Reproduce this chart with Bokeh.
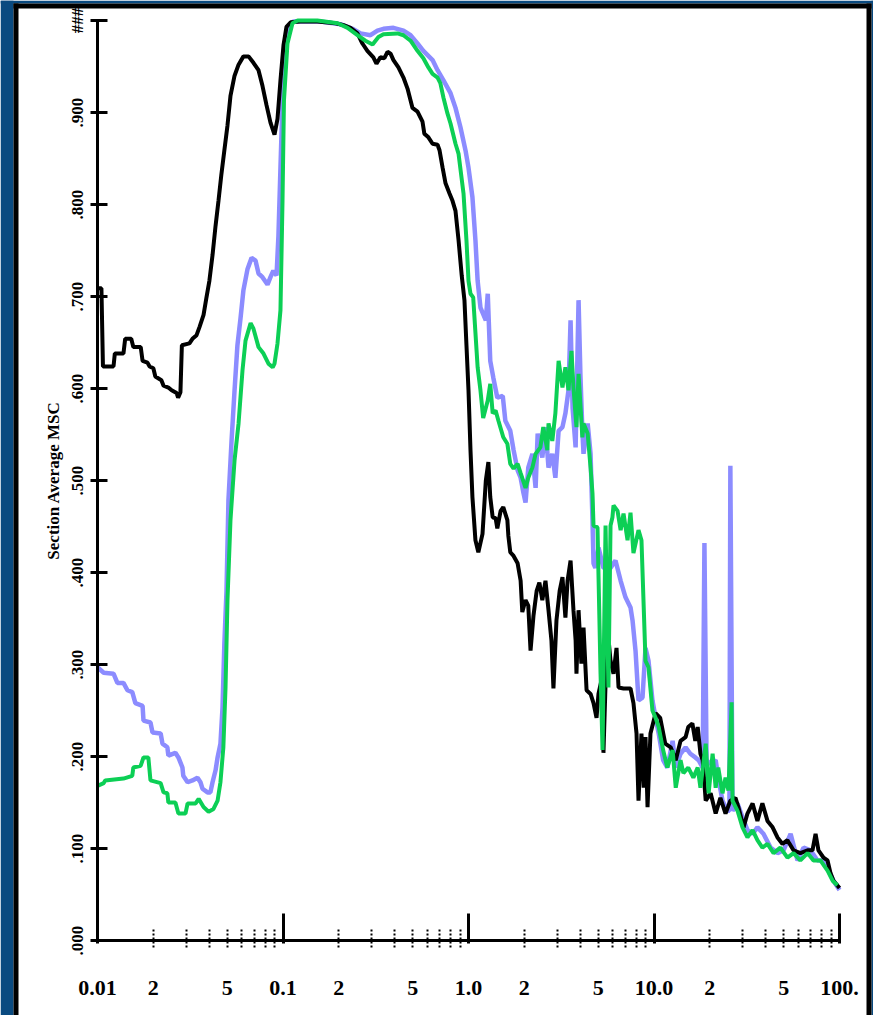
import math
from bokeh.plotting import figure
from bokeh.models import Range1d, FixedTicker, LogAxis, BoxAnnotation, Label
from bokeh.embed import file_html
from bokeh.resources import INLINE

# ---------------- data (frequency, Hz ; section average MSC) ----------------
black_f = [0.0100, 0.0105, 0.0107, 0.0122, 0.0124, 0.0138, 0.0141, 0.0152, 0.0156, 0.0171,
           0.0175, 0.0186, 0.0191, 0.0200, 0.0205, 0.0221, 0.0227, 0.0241, 0.0251, 0.0267,
           0.0272, 0.0280, 0.0285, 0.0313, 0.0325, 0.0342, 0.0355, 0.0373, 0.0386, 0.0401,
           0.0417, 0.0433, 0.0449, 0.0465, 0.0483, 0.0502, 0.0521, 0.0548, 0.0576, 0.0612,
           0.0652, 0.0693, 0.0738, 0.0775, 0.0815, 0.0856, 0.0900, 0.0934, 0.0969,
           0.1006, 0.1044, 0.110, 0.124, 0.153, 0.192, 0.212, 0.231, 0.252, 0.268,
           0.285, 0.307, 0.319, 0.335, 0.352, 0.366, 0.380, 0.394, 0.419, 0.446,
           0.469, 0.499, 0.531, 0.565, 0.578, 0.608, 0.640, 0.681, 0.698, 0.725,
           0.752, 0.790, 0.820, 0.851, 0.884, 0.919, 0.951, 0.975,
           1.00, 1.025, 1.05, 1.09, 1.13, 1.19, 1.24, 1.28, 1.31, 1.35,
           1.40, 1.43, 1.49, 1.54, 1.62, 1.64, 1.68, 1.75, 1.84, 1.91,
           1.95, 2.03, 2.10, 2.16, 2.24, 2.33, 2.41, 2.50, 2.60, 2.70,
           2.80, 2.87, 2.98, 3.10, 3.21, 3.33, 3.42, 3.55, 3.68, 3.78,
           3.82, 3.92, 4.06, 4.17, 4.33, 4.55, 4.72, 4.90, 5.02, 5.21,
           5.34, 5.48, 5.68, 5.83, 6.05, 6.28, 6.44, 6.85, 7.47, 7.75,
           8.05, 8.25, 8.56, 8.80, 9.00, 9.23, 9.57,
           10.2, 10.8, 11.5, 12.3, 13.1, 13.9, 14.8, 15.3, 16.1, 16.7,
           17.2, 17.8, 18.3, 19.0, 20.2, 21.5, 22.8, 24.3, 25.8, 27.5,
           28.5, 30.4, 31.9, 34.0, 36.1, 38.4, 40.9, 43.6, 46.3, 49.3,
           52.4, 56.5, 61.5, 67.3, 71.5, 74.3, 77.0, 82.0, 86.2, 89.5,
           92.8, 100.0]
black_v = [0.709, 0.709, 0.624, 0.624, 0.638, 0.638, 0.654, 0.654, 0.645, 0.645,
           0.630, 0.628, 0.624, 0.622, 0.613, 0.609, 0.603, 0.601, 0.598, 0.595,
           0.590, 0.596, 0.647, 0.649, 0.654, 0.658, 0.667, 0.680, 0.698, 0.717,
           0.745, 0.777, 0.804, 0.832, 0.859, 0.886, 0.918, 0.940, 0.952, 0.961,
           0.961, 0.954, 0.946, 0.929, 0.908, 0.889, 0.876, 0.893, 0.935,
           0.973, 0.993, 0.998, 0.999, 0.999, 0.997, 0.995, 0.992, 0.986, 0.975,
           0.967, 0.960, 0.953, 0.960, 0.959, 0.966, 0.964, 0.957, 0.949, 0.938,
           0.926, 0.905, 0.901, 0.890, 0.877, 0.873, 0.866, 0.865, 0.859, 0.840,
           0.823, 0.812, 0.804, 0.793, 0.761, 0.723, 0.696, 0.647,
           0.598, 0.533, 0.482, 0.435, 0.422, 0.442, 0.500, 0.520, 0.482, 0.460,
           0.459, 0.448, 0.467, 0.471, 0.457, 0.440, 0.422, 0.418, 0.410, 0.391,
           0.357, 0.370, 0.364, 0.315, 0.353, 0.380, 0.389, 0.370, 0.391, 0.359,
           0.326, 0.274, 0.348, 0.380, 0.395, 0.351, 0.391, 0.413, 0.359, 0.326,
           0.290, 0.359, 0.301, 0.340, 0.272, 0.268, 0.258, 0.242, 0.268, 0.283,
           0.204, 0.279, 0.329, 0.304, 0.290, 0.318, 0.275, 0.274, 0.274, 0.258,
           0.225, 0.152, 0.225, 0.166, 0.221, 0.145, 0.225,
           0.247, 0.242, 0.214, 0.210, 0.196, 0.217, 0.221, 0.232, 0.236, 0.217,
           0.232, 0.203, 0.196, 0.152, 0.160, 0.138, 0.155, 0.138, 0.152, 0.155,
           0.145, 0.123, 0.138, 0.149, 0.130, 0.149, 0.130, 0.123, 0.112, 0.105,
           0.109, 0.098, 0.095, 0.098, 0.098, 0.116, 0.098, 0.090, 0.087, 0.073,
           0.065, 0.057]

purple_f = [0.0100, 0.0108, 0.0122, 0.0128, 0.0138, 0.0145, 0.0154, 0.0160, 0.0175, 0.0177,
            0.0193, 0.0198, 0.0219, 0.0224, 0.0238, 0.0241, 0.0263, 0.0273, 0.0287, 0.0290,
            0.0306, 0.0325, 0.0346, 0.0359, 0.0368, 0.0392, 0.0406, 0.0417, 0.0433, 0.0444,
            0.0460, 0.0472, 0.0483, 0.0496, 0.0508, 0.0528, 0.0548, 0.0568, 0.0590, 0.0612,
            0.0644, 0.0677, 0.0711, 0.0738, 0.0775, 0.0825, 0.0856, 0.0887, 0.0923, 0.0945,
            0.0969,
            0.0994, 0.1019, 0.1057, 0.114, 0.159, 0.204, 0.237, 0.262, 0.296, 0.323,
            0.348, 0.394, 0.446, 0.487, 0.531, 0.571, 0.640, 0.681, 0.733, 0.800,
            0.851, 0.905, 0.963, 1.00,
            1.05, 1.09, 1.12, 1.16, 1.24, 1.27, 1.31, 1.36, 1.43, 1.53,
            1.58, 1.68, 1.75, 1.84, 1.91, 1.98, 2.03, 2.10, 2.21, 2.30,
            2.36, 2.50, 2.60, 2.70, 2.83, 2.94, 3.06, 3.21, 3.33, 3.46,
            3.55, 3.64, 3.78, 3.92, 4.01, 4.11, 4.17, 4.39, 4.55, 4.66,
            4.72, 4.83, 5.02, 5.34, 5.83, 6.20, 6.61, 7.02, 7.47, 7.66,
            7.95, 8.25, 8.67, 9.00, 9.34, 9.81,
            10.2, 10.6, 11.2, 11.8, 12.6, 13.1, 13.9, 14.8, 15.7, 16.7,
            17.4, 18.3, 18.7, 19.2, 20.2, 21.5, 22.2, 23.4, 24.9, 25.5,
            25.8, 26.5, 28.2, 30.0, 31.9, 34.0, 36.1, 38.9, 42.5, 46.3,
            49.9, 54.5, 59.4, 64.0, 69.8, 76.1, 82.0, 87.3, 92.8, 100.0]
purple_v = [0.297, 0.291, 0.290, 0.280, 0.280, 0.272, 0.270, 0.258, 0.255, 0.239,
            0.237, 0.226, 0.225, 0.214, 0.210, 0.201, 0.204, 0.199, 0.188, 0.179,
            0.172, 0.174, 0.177, 0.172, 0.165, 0.161, 0.161, 0.172, 0.185, 0.199,
            0.214, 0.253, 0.323, 0.380, 0.478, 0.543, 0.598, 0.647, 0.676, 0.707,
            0.730, 0.742, 0.739, 0.725, 0.721, 0.713, 0.721, 0.728, 0.723, 0.766,
            0.840,
            0.913, 0.967, 0.992, 0.999, 0.999, 0.996, 0.991, 0.986, 0.984, 0.989,
            0.991, 0.992, 0.989, 0.984, 0.975, 0.967, 0.957, 0.946, 0.935, 0.921,
            0.905, 0.884, 0.859, 0.840,
            0.808, 0.761, 0.717, 0.688, 0.674, 0.703, 0.630, 0.612, 0.590, 0.592,
            0.565, 0.554, 0.533, 0.511, 0.503, 0.486, 0.476, 0.514, 0.529, 0.492,
            0.551, 0.525, 0.558, 0.514, 0.529, 0.503, 0.554, 0.558, 0.573, 0.598,
            0.674, 0.579, 0.536, 0.696, 0.616, 0.554, 0.529, 0.562, 0.529, 0.457,
            0.410, 0.405, 0.427, 0.405, 0.405, 0.413, 0.391, 0.373, 0.362, 0.348,
            0.315, 0.261, 0.264, 0.318, 0.304, 0.261,
            0.242, 0.225, 0.196, 0.188, 0.217, 0.188, 0.203, 0.210, 0.203, 0.199,
            0.196, 0.188, 0.432, 0.196, 0.192, 0.196, 0.177, 0.152, 0.141, 0.141,
            0.516, 0.141, 0.149, 0.134, 0.120, 0.116, 0.123, 0.116, 0.101, 0.095,
            0.098, 0.116, 0.087, 0.101, 0.098, 0.087, 0.087, 0.076, 0.065, 0.055]

green_f = [0.0100, 0.0108, 0.0110, 0.0138, 0.0154, 0.0156, 0.0171, 0.0177, 0.0188, 0.0193,
           0.0219, 0.0227, 0.0238, 0.0241, 0.0263, 0.0273, 0.0298, 0.0306, 0.0338, 0.0351,
           0.0373, 0.0397, 0.0422, 0.0444, 0.0460, 0.0477, 0.0490, 0.0502, 0.0521, 0.0548,
           0.0576, 0.0605, 0.0628, 0.0669, 0.0693, 0.0738, 0.0785, 0.0835, 0.0880, 0.0900,
           0.0934, 0.0969, 0.0994,
           0.1012, 0.1057, 0.1125, 0.120, 0.153, 0.197, 0.223, 0.252, 0.278, 0.304,
           0.327, 0.348, 0.414, 0.446, 0.487, 0.531, 0.571, 0.608, 0.640, 0.681,
           0.705, 0.733, 0.770, 0.800, 0.851, 0.884, 0.940, 0.975,
           1.00, 1.025, 1.06, 1.12, 1.16, 1.20, 1.27, 1.31, 1.35, 1.40,
           1.45, 1.54, 1.62, 1.68, 1.75, 1.84, 1.91, 2.03, 2.10, 2.21,
           2.30, 2.44, 2.53, 2.66, 2.70, 2.83, 2.94, 3.06, 3.21, 3.33,
           3.46, 3.59, 3.68, 3.82, 3.92, 4.11, 4.17, 4.39, 4.55, 4.66,
           4.72, 4.96, 5.15, 5.28, 5.48, 5.68, 5.83, 5.97, 6.05, 6.36,
           6.61, 6.85, 7.20, 7.47, 7.75, 8.25, 8.56, 9.00, 9.34, 9.81,
           10.2, 10.6, 11.2, 11.8, 12.6, 13.1, 13.9, 14.4, 15.3, 16.3,
           17.2, 17.8, 19.0, 19.7, 20.7, 21.5, 22.2, 23.4, 24.3, 25.2,
           26.2, 26.5, 28.2, 30.0, 31.9, 34.0, 36.1, 38.4, 40.9, 44.1,
           48.0, 52.4, 56.5, 61.5, 67.3, 72.4, 78.9, 86.2, 91.8, 97.5]
green_v = [0.168, 0.171, 0.174, 0.176, 0.179, 0.188, 0.190, 0.199, 0.199, 0.174,
           0.171, 0.161, 0.160, 0.150, 0.150, 0.138, 0.138, 0.149, 0.149, 0.154,
           0.145, 0.140, 0.143, 0.152, 0.172, 0.210, 0.275, 0.370, 0.457, 0.522,
           0.562, 0.620, 0.652, 0.671, 0.665, 0.645, 0.638, 0.627, 0.623, 0.627,
           0.649, 0.685, 0.804,
           0.913, 0.975, 0.997, 1.000, 1.000, 0.997, 0.992, 0.984, 0.978, 0.974,
           0.982, 0.985, 0.986, 0.984, 0.978, 0.967, 0.959, 0.949, 0.942, 0.938,
           0.932, 0.916, 0.899, 0.888, 0.866, 0.855, 0.812, 0.761,
           0.717, 0.703, 0.699, 0.623, 0.598, 0.568, 0.587, 0.605, 0.573, 0.576,
           0.565, 0.547, 0.540, 0.518, 0.513, 0.518, 0.508, 0.492, 0.503, 0.514,
           0.529, 0.536, 0.558, 0.533, 0.562, 0.543, 0.573, 0.630, 0.601, 0.623,
           0.598, 0.641, 0.601, 0.558, 0.616, 0.547, 0.562, 0.551, 0.514, 0.486,
           0.451, 0.449, 0.290, 0.207, 0.451, 0.275, 0.451, 0.460, 0.473, 0.467,
           0.446, 0.464, 0.435, 0.465, 0.421, 0.446, 0.435, 0.304, 0.297, 0.250,
           0.242, 0.232, 0.207, 0.188, 0.207, 0.166, 0.196, 0.182, 0.188, 0.177,
           0.188, 0.166, 0.214, 0.160, 0.203, 0.166, 0.188, 0.160, 0.177, 0.163,
           0.259, 0.152, 0.141, 0.123, 0.112, 0.120, 0.109, 0.101, 0.105, 0.095,
           0.101, 0.090, 0.095, 0.087, 0.095, 0.087, 0.087, 0.076, 0.065, 0.060]

x_ticks = [0.01, 0.02, 0.05, 0.1, 0.2, 0.5, 1.0, 2.0, 5.0, 10.0, 20.0, 50.0, 100.0]
x_tick_labels = ["0.01", "2", "5", "0.1", "2", "5", "1.0", "2", "5", "10.0", "2", "5", "100."]
x_decades = [0.01, 0.1, 1.0, 10.0, 100.0]
x_minor_mult = [2, 3, 4, 5, 6, 7, 8, 9]
y_ticks = [0.0, 0.1, 0.2, 0.3, 0.4, 0.5, 0.6, 0.7, 0.8, 0.9, 1.0]
y_tick_labels = [".000", ".100", ".200", ".300", ".400", ".500", ".600", ".700", ".800", ".900", "###"]
y_title = "Section Average MSC"

# ---------------- layout ----------------
NAVY = "#0a4a80"
W, H = 873, 1015
AX_LEFT = 97        # px of x = 0.01
PX_DEC = 185.5      # px per decade
AX_TOP = 20         # px of y = 1.0
PX_UNIT = 920.0     # px per 1.0 MSC
AX_BOTTOM = AX_TOP + PX_UNIT

lx0 = -2 - AX_LEFT / PX_DEC
lx1 = -2 + (W - AX_LEFT) / PX_DEC
y0 = -(H - AX_BOTTOM) / PX_UNIT
y1 = 1.0 + AX_TOP / PX_UNIT

p = figure(width=W, height=H, x_axis_type="log",
           x_range=Range1d(10 ** lx0, 10 ** lx1), y_range=Range1d(y0, y1),
           output_backend="svg", toolbar_location=None, min_border=0)
p.background_fill_color = "white"
p.border_fill_color = "white"
p.outline_line_color = None
p.grid.visible = False


def strip(l, r, t, b, color):
    # screen y units count upward from the bottom edge
    p.add_layout(BoxAnnotation(left=l, right=r, top=H - t, bottom=H - b,
                               left_units="screen", right_units="screen",
                               top_units="screen", bottom_units="screen",
                               fill_color=color, fill_alpha=1, line_color=None))


# navy surround and black frame (t/b measured from the top edge)
strip(0, 13, 0, H, NAVY)
strip(0, W, 0, 3, NAVY)
strip(871, W, 0, H, NAVY)
strip(13, 18, 3, H, "black")
strip(13, 871, 3, 8, "black")
strip(866, 871, 3, H, "black")

# curves
p.line(purple_f, purple_v, line_color="#8c8cff", line_width=4.5)
p.line(black_f, black_v, line_color="black", line_width=4)
p.line(green_f, green_v, line_color="#0ccf55", line_width=4)

SERIF = "Liberation Serif"

# x axis with labels and dotted minor ticks
minor = [m * d for d in x_decades[:-1] for m in x_minor_mult]
xa = p.xaxis[0]
xa.fixed_location = 0
xa.bounds = (0.01, 100)
xa.ticker = FixedTicker(ticks=x_ticks, minor_ticks=minor)
xa.major_label_overrides = dict(zip(x_ticks, x_tick_labels))
xa.axis_line_width = 3
xa.axis_line_color = "black"
xa.major_tick_in = 0
xa.major_tick_out = 0
xa.major_tick_line_color = None
xa.minor_tick_in = 13
xa.minor_tick_out = 7
xa.minor_tick_line_width = 2
xa.minor_tick_line_dash = "2 2"
xa.minor_tick_line_color = "black"
xa.major_label_text_font = SERIF
xa.major_label_text_font_style = "bold"
xa.major_label_text_font_size = "22px"
xa.major_label_text_color = "black"
xa.major_label_standoff = 33

# decade ticks (tall, solid)
da = LogAxis(fixed_location=0, ticker=FixedTicker(ticks=x_decades, minor_ticks=[]),
             axis_line_color=None, major_tick_in=27, major_tick_out=3,
             major_tick_line_width=3, major_tick_line_color="black",
             minor_tick_line_color=None,
             major_label_overrides={d: "" for d in x_decades})
p.add_layout(da, "below")

# y axis
ya = p.yaxis[0]
ya.fixed_location = 0.01
ya.bounds = (0, 1)
ya.ticker = FixedTicker(ticks=y_ticks)
ya.major_label_overrides = dict(zip(y_ticks, y_tick_labels))
ya.major_label_orientation = "vertical"
ya.axis_line_width = 3
ya.axis_line_color = "black"
ya.major_tick_in = 10
ya.major_tick_out = 7
ya.major_tick_line_width = 3
ya.minor_tick_line_color = None
ya.major_label_text_font = SERIF
ya.major_label_text_font_style = "bold"
ya.major_label_text_font_size = "17px"
ya.major_label_text_color = "black"
ya.major_label_standoff = 4

p.add_layout(Label(x=53, y=0.5, x_units="screen", y_units="data", text=y_title,
                   angle=math.pi / 2, text_align="center", text_baseline="middle",
                   text_font=SERIF, text_font_style="bold", text_font_size="17px",
                   text_color="black"))

open("out.html", "w").write(file_html(p, INLINE))
